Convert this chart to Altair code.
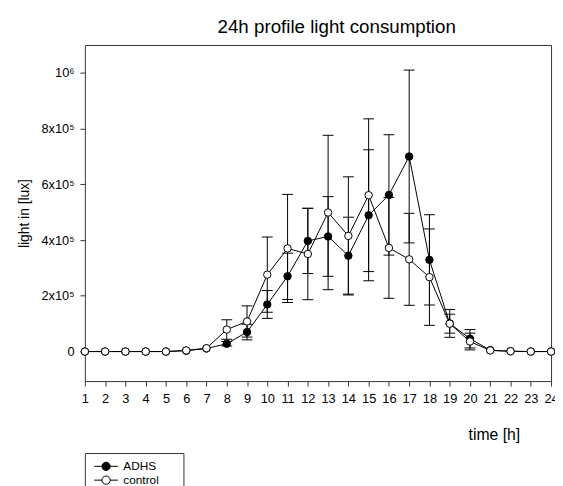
import altair as alt
import pandas as pd

# ---- data ----
hours = list(range(1, 25))
adhs_mean = [0, 0, 0, 0, 0, 3000, 11000, 28000, 70000, 169000, 270000, 397000,
             413000, 344000, 489000, 562000, 700000, 329000, 101000, 46000, 5000, 1000, 0, 0]
adhs_err = [0, 0, 0, 0, 0, 0, 0, 8000, 28000, 50000, 83000, 117000,
            143000, 138000, 235000, 216000, 310000, 162000, 50000, 33000, 0, 0, 0, 0]
control_mean = [0, 0, 0, 0, 0, 4000, 12000, 79000, 108000, 276000, 370000, 350000,
                499000, 415000, 561000, 372000, 331000, 267000, 100000, 36000, 4000, 1000, 0, 0]
control_err = [0, 0, 0, 0, 0, 0, 0, 35000, 56000, 135000, 194000, 164000,
               277000, 212000, 274000, 181000, 165000, 173000, 34000, 30000, 0, 0, 0, 0]

groups = ["ADHS", "control"]
group_fills = ["black", "white"]
x_ticks = list(range(1, 25))
y_ticks = [0, 200000, 400000, 600000, 800000, 1000000]
y_tick_labels = ["0", "2x10⁵", "4x10⁵", "6x10⁵", "8x10⁵", "10⁶"]

rows = []
for g, means, errs in [(groups[0], adhs_mean, adhs_err), (groups[1], control_mean, control_err)]:
    for h, m, e in zip(hours, means, errs):
        rows.append(dict(group=g, hour=h, value=m, err=e, lo=m - e, hi=m + e))
df = pd.DataFrame(rows)

FONT = "Liberation Sans"
label_expr = "".join(f"datum.value == {v} ? '{t}' : " for v, t in zip(y_ticks, y_tick_labels)) + "''"

x_scale = alt.Scale(domain=[1, 24], nice=False, zero=False)
y_scale = alt.Scale(domain=[-106000, 1100000], nice=False, zero=False)

x_axis = alt.Axis(values=x_ticks, format="d", title="time [h]", labelFontSize=13,
                  labelPadding=7, tickSize=5, titleFontSize=16, titleFontWeight="normal",
                  titleX=415, titleY=54, titleAlign="center", titleBaseline="middle",
                  labelFlush=False, labelOverlap=False)
y_axis = alt.Axis(values=y_ticks, labelExpr=label_expr, title="light in [lux]",
                  labelFontSize=13, labelPadding=6, tickSize=5, titleFontSize=14,
                  titleFontWeight="normal", titleX=-61, titleY=170.5,
                  titleAlign="center", titleBaseline="middle")

base = alt.Chart(df)
errs = base.transform_filter("datum.err > 0")

bars = errs.mark_rule(color="black", strokeWidth=1).encode(
    x=alt.X("hour:Q", scale=x_scale, axis=x_axis),
    y=alt.Y("lo:Q", scale=y_scale, axis=y_axis),
    y2="hi:Q",
)
cap_hi = errs.mark_rule(color="black", strokeWidth=1, xOffset=-5.5, x2Offset=5.5).encode(
    x=alt.X("hour:Q", scale=x_scale, axis=x_axis),
    x2="hour:Q",
    y=alt.Y("hi:Q", scale=y_scale, axis=y_axis),
)
cap_lo = errs.mark_rule(color="black", strokeWidth=1, xOffset=-5.5, x2Offset=5.5).encode(
    x=alt.X("hour:Q", scale=x_scale, axis=x_axis),
    x2="hour:Q",
    y=alt.Y("lo:Q", scale=y_scale, axis=y_axis),
)
lines = base.mark_line(color="black", strokeWidth=1).encode(
    x=alt.X("hour:Q", scale=x_scale, axis=x_axis),
    y=alt.Y("value:Q", scale=y_scale, axis=y_axis),
    detail="group:N",
    order="hour:Q",
)
legend_path = ("M-1.714,0L-0.6,0M0.6,0L1.714,0"
               "M-0.6,0A0.6,0.6,0,1,1,0.6,0A0.6,0.6,0,1,1,-0.6,0Z")
points = base.mark_point(shape="circle", filled=True, size=57, stroke="black",
                         strokeWidth=1, opacity=1).encode(
    x=alt.X("hour:Q", scale=x_scale, axis=x_axis),
    y=alt.Y("value:Q", scale=y_scale, axis=y_axis),
    fill=alt.Fill("group:N", scale=alt.Scale(domain=groups, range=group_fills),
                  legend=alt.Legend(orient="none", legendX=0, legendY=414, title=None,
                                    padding=6, strokeColor="#333", fillColor="white",
                                    symbolType=legend_path, symbolSize=196,
                                    symbolStrokeColor="black", symbolStrokeWidth=1,
                                    symbolOffset=8, labelOffset=10, rowPadding=0,
                                    labelFontSize=12, labelFont=FONT, labelColor="black",
                                    labelExpr="datum.label + '\u2002\u2002\u2002\u200b'")),
)

chart = alt.layer(bars, cap_hi, cap_lo, lines, points).properties(
    width=473,
    height=341,
    autosize=alt.AutoSizeParams(type="none"),
    padding={"left": 78, "top": 34, "right": 4, "bottom": 110},
    title=alt.TitleParams("24h profile light consumption", fontSize=19, font=FONT,
                          fontWeight="normal", offset=8, anchor="middle", dx=19,
                          color="black"),
).configure_view(stroke="#333", strokeWidth=1).configure_axis(
    grid=False, domain=False, tickColor="#333", labelColor="black", titleColor="black",
    labelFont=FONT, titleFont=FONT,
)

chart.save("out.html", embed_options={"renderer": "svg", "actions": False})
